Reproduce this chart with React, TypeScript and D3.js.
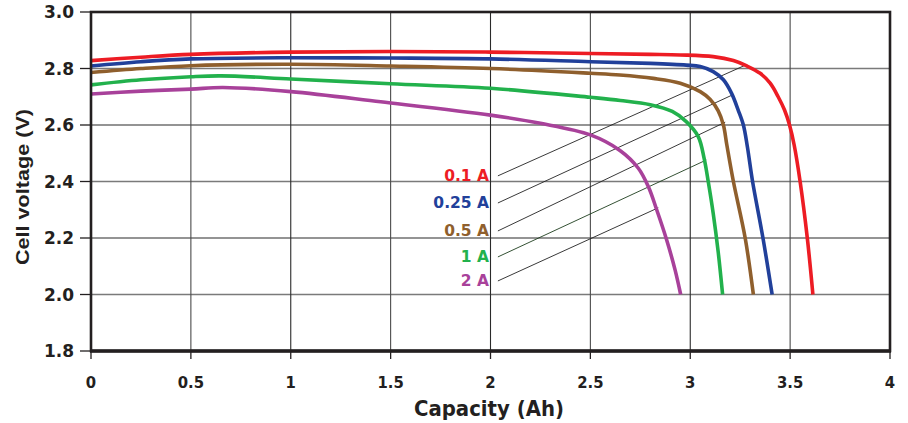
import React from "react";
import * as d3 from "d3";

const xTicks = [0, 0.5, 1, 1.5, 2, 2.5, 3, 3.5, 4];
const yTicks = [1.8, 2.0, 2.2, 2.4, 2.6, 2.8, 3.0];

const redX = [0, 0.25, 0.5, 1, 1.5, 2, 2.5, 2.8, 2.95, 3.115, 3.216, 3.283, 3.35, 3.4, 3.44, 3.472, 3.497, 3.52, 3.55, 3.586, 3.614];
const redY = [2.828, 2.84, 2.85, 2.858, 2.86, 2.858, 2.853, 2.85, 2.848, 2.842, 2.828, 2.809, 2.783, 2.748, 2.70, 2.653, 2.60, 2.53, 2.40, 2.20, 2.00];

const blueX = [0, 0.25, 0.5, 1, 1.5, 2, 2.5, 2.8, 2.98, 3.05, 3.115, 3.166, 3.207, 3.24, 3.266, 3.286, 3.312, 3.364, 3.41];
const blueY = [2.809, 2.824, 2.834, 2.838, 2.837, 2.834, 2.824, 2.818, 2.812, 2.807, 2.789, 2.76, 2.712, 2.653, 2.60, 2.523, 2.40, 2.20, 2.00];

const brownX = [0, 0.25, 0.5, 1, 1.5, 2, 2.5, 2.648, 2.815, 2.95, 3.05, 3.1, 3.14, 3.166, 3.183, 3.216, 3.275, 3.316];
const brownY = [2.786, 2.8, 2.81, 2.815, 2.809, 2.80, 2.783, 2.777, 2.765, 2.748, 2.718, 2.69, 2.65, 2.60, 2.53, 2.40, 2.20, 2.00];

const greenX = [0, 0.25, 0.5, 0.65, 1, 1.5, 2, 2.5, 2.65, 2.8, 2.91, 2.98, 3.04, 3.07, 3.09, 3.115, 3.14, 3.162];
const greenY = [2.742, 2.76, 2.771, 2.774, 2.763, 2.746, 2.73, 2.698, 2.687, 2.672, 2.648, 2.612, 2.559, 2.48, 2.40, 2.287, 2.15, 2.00];

const magentaX = [0, 0.25, 0.5, 0.66, 1.0, 1.45, 2.0, 2.25, 2.5, 2.648, 2.74, 2.79, 2.832, 2.882, 2.924, 2.952];
const magentaY = [2.71, 2.72, 2.727, 2.733, 2.718, 2.682, 2.635, 2.606, 2.565, 2.51, 2.447, 2.382, 2.30, 2.193, 2.087, 2.0];

const seriesNames = ["0.1 A", "0.25 A", "0.5 A", "1 A", "2 A"];
const seriesColors = ["#ed1c24", "#21409a", "#8f5f2d", "#22b14c", "#a8419a"];
const seriesXs = [redX, blueX, brownX, greenX, magentaX];
const seriesYs = [redY, blueY, brownY, greenY, magentaY];

// leader lines: start (label side) and end (at curve), in data units
const leaderStartX = 2.037;
const leaderStartY = [2.42, 2.324, 2.225, 2.133, 2.048];
const leaderEndX = [3.27, 3.21, 3.175, 3.08, 2.84];
const leaderEndY = [2.81, 2.706, 2.61, 2.476, 2.307];
const leaderColors = ["#222", "#222", "#222", "#1d3d1d", "#222"];

export default function App() {
  const W = 908;
  const H = 423;
  const x = d3.scaleLinear().domain([0, 4]).range([91, 890]);
  const y = d3.scaleLinear().domain([1.8, 3.0]).range([351, 12]);

  const line = d3
    .line<[number, number]>()
    .x((d) => x(d[0]))
    .y((d) => y(d[1]))
    .curve(d3.curveCatmullRom.alpha(0.5));

  const hGrey = [2.0, 2.4, 2.8];
  const font = "'DejaVu Sans', sans-serif";

  return (
    <svg
      width={W}
      height={H}
      style={{ position: "absolute", left: 0, top: 0, background: "#fff" }}
    >
      {/* horizontal gridlines */}
      {yTicks
        .filter((t) => t > 1.85 && t < 2.95)
        .map((t) => {
          const grey = hGrey.some((g) => Math.abs(g - t) < 1e-6);
          return (
            <line
              key={"h" + t}
              x1={x(0)}
              x2={x(4)}
              y1={y(t)}
              y2={y(t)}
              stroke={grey ? "#7a7a7a" : "#2a2a2a"}
              strokeWidth={grey ? 1.6 : 1.1}
            />
          );
        })}
      {/* vertical gridlines */}
      {xTicks
        .filter((t) => t > 0 && t < 4)
        .map((t) => (
          <line
            key={"v" + t}
            x1={x(t)}
            x2={x(t)}
            y1={y(3.0)}
            y2={y(1.8)}
            stroke={t % 1 === 0 ? "#2a2a2a" : "#4a4a4a"}
            strokeWidth={1.1}
          />
        ))}

      {/* leader lines */}
      {seriesNames.map((n, i) => (
        <line
          key={"l" + n}
          x1={x(leaderStartX)}
          y1={y(leaderStartY[i])}
          x2={x(leaderEndX[i])}
          y2={y(leaderEndY[i])}
          stroke={leaderColors[i]}
          strokeWidth={0.9}
        />
      ))}

      {/* curves */}
      {seriesNames.map((n, i) => {
        const pts: [number, number][] = seriesXs[i].map((vx, j) => [vx, seriesYs[i][j]]);
        return (
          <path
            key={"c" + n}
            d={line(pts) || ""}
            fill="none"
            stroke={seriesColors[i]}
            strokeWidth={3.6}
            strokeLinejoin="round"
          />
        );
      })}

      {/* legend labels */}
      {seriesNames.map((n, i) => (
        <text
          key={"t" + n}
          x={489}
          y={y(leaderStartY[i]) + 1}
          textAnchor="end"
          dominantBaseline="middle"
          fill={seriesColors[i]}
          fontFamily={font}
          fontWeight="bold"
          fontSize={15.5}
        >
          {n}
        </text>
      ))}

      {/* frame */}
      <rect
        x={x(0)}
        y={y(3.0)}
        width={x(4) - x(0)}
        height={y(1.8) - y(3.0)}
        fill="none"
        stroke="#231f20"
        strokeWidth={2.6}
      />
      <line x1={x(0) - 1} x2={x(4) + 1} y1={y(1.8)} y2={y(1.8)} stroke="#231f20" strokeWidth={3.4} />

      {/* y ticks */}
      {yTicks.map((t) => (
        <g key={"yt" + t}>
          <line x1={80} x2={x(0)} y1={y(t)} y2={y(t)} stroke="#231f20" strokeWidth={1.3} />
          <text
            x={74}
            y={y(t)}
            textAnchor="end"
            dominantBaseline="central"
            fill="#231f20"
            fontFamily={font}
            fontWeight="bold"
            fontSize={17}
          >
            {t.toFixed(1)}
          </text>
        </g>
      ))}

      {/* x ticks */}
      {xTicks.map((t) => (
        <g key={"xt" + t}>
          <line x1={x(t)} x2={x(t)} y1={y(1.8)} y2={y(1.8) + 8} stroke="#231f20" strokeWidth={1.3} />
          <text
            x={x(t)}
            y={388}
            textAnchor="middle"
            fill="#231f20"
            fontFamily="'DejaVu Sans Condensed', 'DejaVu Sans', sans-serif"
            fontWeight="bold"
            fontSize={16.5}
          >
            {String(t)}
          </text>
        </g>
      ))}

      {/* axis titles */}
      <text
        x={489}
        y={416}
        textAnchor="middle"
        fill="#231f20"
        fontFamily="'Liberation Sans Narrow', 'DejaVu Sans Condensed', sans-serif"
        fontWeight="bold"
        fontSize={22}
        textLength={150}
        lengthAdjust="spacingAndGlyphs"
      >
        Capacity (Ah)
      </text>
      <text
        transform={`translate(29, 187) rotate(-90)`}
        textAnchor="middle"
        fill="#231f20"
        fontFamily="'Liberation Sans', sans-serif"
        fontWeight="bold"
        fontSize={19}
        textLength={156}
        lengthAdjust="spacingAndGlyphs"
      >
        Cell voltage (V)
      </text>
    </svg>
  );
}
